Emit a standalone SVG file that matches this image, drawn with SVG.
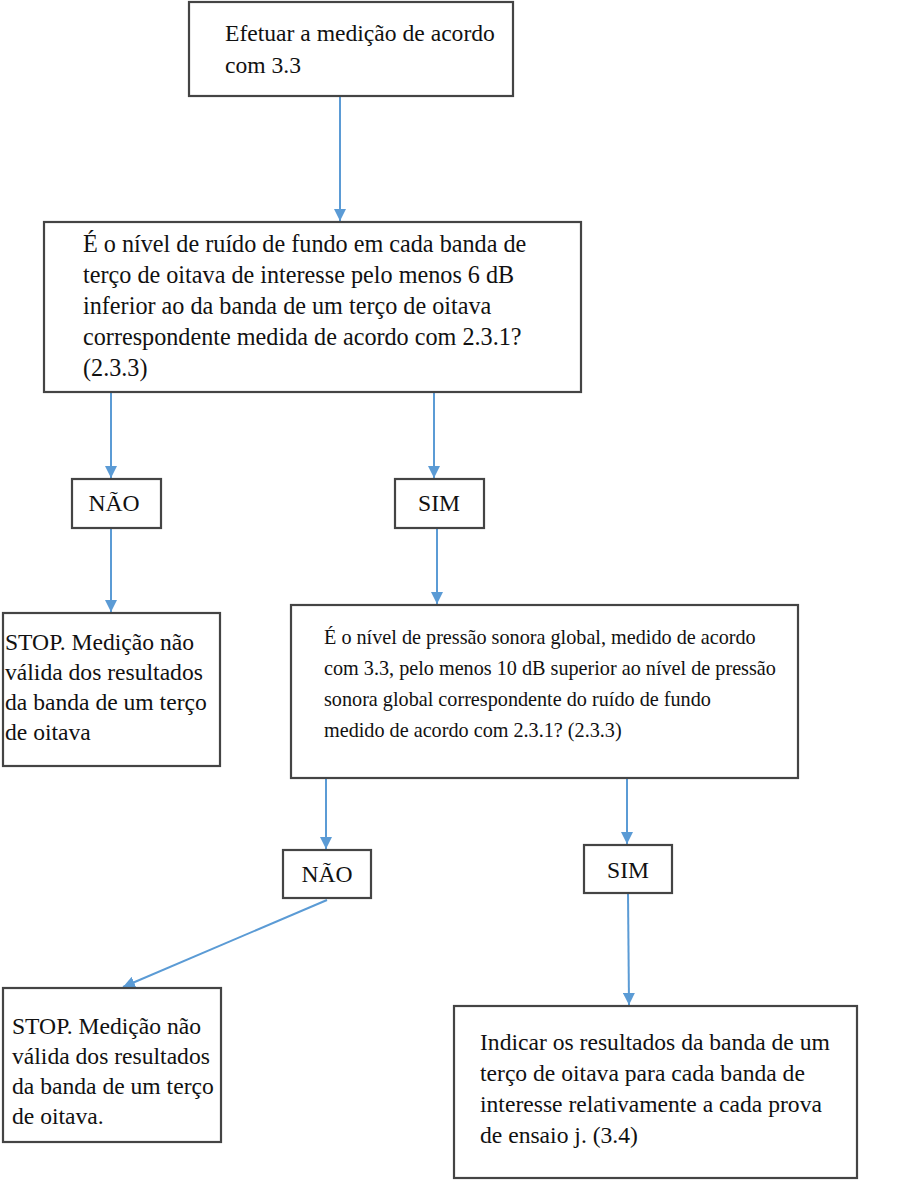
<svg xmlns="http://www.w3.org/2000/svg" width="899" height="1181" viewBox="0 0 899 1181">
<style>
.box{fill:#ffffff;stroke:#444444;stroke-width:2.2}
text{font-family:'Liberation Serif','DejaVu Serif','Noto Serif',serif;font-size:23.6px;fill:#111}
.s{font-size:20.2px}
.b{font-size:24.2px}
.c{text-anchor:middle}
.a{stroke:#5b9bd5;stroke-width:2;fill:none;marker-end:url(#ah)}
</style>
<defs>
<marker id="ah" viewBox="0 0 10 10" refX="10" refY="5" markerWidth="6" markerHeight="6" markerUnits="strokeWidth" orient="auto">
<path d="M0,0 L10,5 L0,10 z" fill="#5b9bd5"/>
</marker>
</defs>
<rect width="899" height="1181" fill="#ffffff"/>
<g id="connectors">
<line class="a" x1="340" y1="97" x2="340" y2="221"/>
<line class="a" x1="111" y1="392" x2="111" y2="478"/>
<line class="a" x1="434" y1="392" x2="434" y2="478"/>
<line class="a" x1="111" y1="528" x2="111" y2="612"/>
<line class="a" x1="437" y1="528" x2="437" y2="604"/>
<line class="a" x1="326" y1="778" x2="326" y2="849"/>
<line class="a" x1="627" y1="778" x2="627" y2="844"/>
<line class="a" x1="327" y1="900" x2="123" y2="987"/>
<line class="a" x1="628" y1="893" x2="629" y2="1005"/>
</g>
<g id="n1">
<rect class="box" x="189" y="2" width="324" height="94"/>
<text x="225" y="41">Efetuar a medição de acordo</text>
<text x="225" y="73">com 3.3</text>
</g>
<g id="n2">
<rect class="box" x="44" y="222" width="537" height="170"/>
<text class="b" x="83" y="252">É o nível de ruído de fundo em cada banda de</text>
<text class="b" x="83" y="283">terço de oitava de interesse pelo menos 6 dB</text>
<text class="b" x="83" y="314">inferior ao da banda de um terço de oitava</text>
<text class="b" x="83" y="345">correspondente medida de acordo com 2.3.1?</text>
<text class="b" x="83" y="376">(2.3.3)</text>
</g>
<g id="n3">
<rect class="box" x="72" y="479" width="89" height="49"/>
<text class="c" x="114" y="511">NÃO</text>
</g>
<g id="n4">
<rect class="box" x="395" y="479" width="89" height="49"/>
<text class="c" x="439" y="511">SIM</text>
</g>
<g id="n5">
<rect class="box" x="3" y="613" width="217" height="153"/>
<text x="5" y="650">STOP. Medição não</text>
<text x="5" y="680">válida dos resultados</text>
<text x="5" y="710">da banda de um terço</text>
<text x="5" y="740">de oitava</text>
</g>
<g id="n6">
<rect class="box" x="291" y="605" width="507" height="173"/>
<text class="s" x="324" y="644">É o nível de pressão sonora global, medido de acordo</text>
<text class="s" x="324" y="675">com 3.3, pelo menos 10 dB superior ao nível de pressão</text>
<text class="s" x="324" y="706">sonora global correspondente do ruído de fundo</text>
<text class="s" x="324" y="737">medido de acordo com 2.3.1? (2.3.3)</text>
</g>
<g id="n7">
<rect class="box" x="283" y="850" width="88" height="48"/>
<text class="c" x="327" y="882">NÃO</text>
</g>
<g id="n8">
<rect class="box" x="584" y="845" width="88" height="48"/>
<text class="c" x="628" y="878">SIM</text>
</g>
<g id="n9">
<rect class="box" x="3" y="988" width="218" height="154"/>
<text x="12" y="1034">STOP. Medição não</text>
<text x="12" y="1064">válida dos resultados</text>
<text x="12" y="1094">da banda de um terço</text>
<text x="12" y="1124">de oitava.</text>
</g>
<g id="n10">
<rect class="box" x="454" y="1006" width="403" height="172"/>
<text x="480" y="1050">Indicar os resultados da banda de um</text>
<text x="480" y="1081">terço de oitava para cada banda de</text>
<text x="480" y="1112">interesse relativamente a cada prova</text>
<text x="480" y="1143">de ensaio j. (3.4)</text>
</g>
</svg>
